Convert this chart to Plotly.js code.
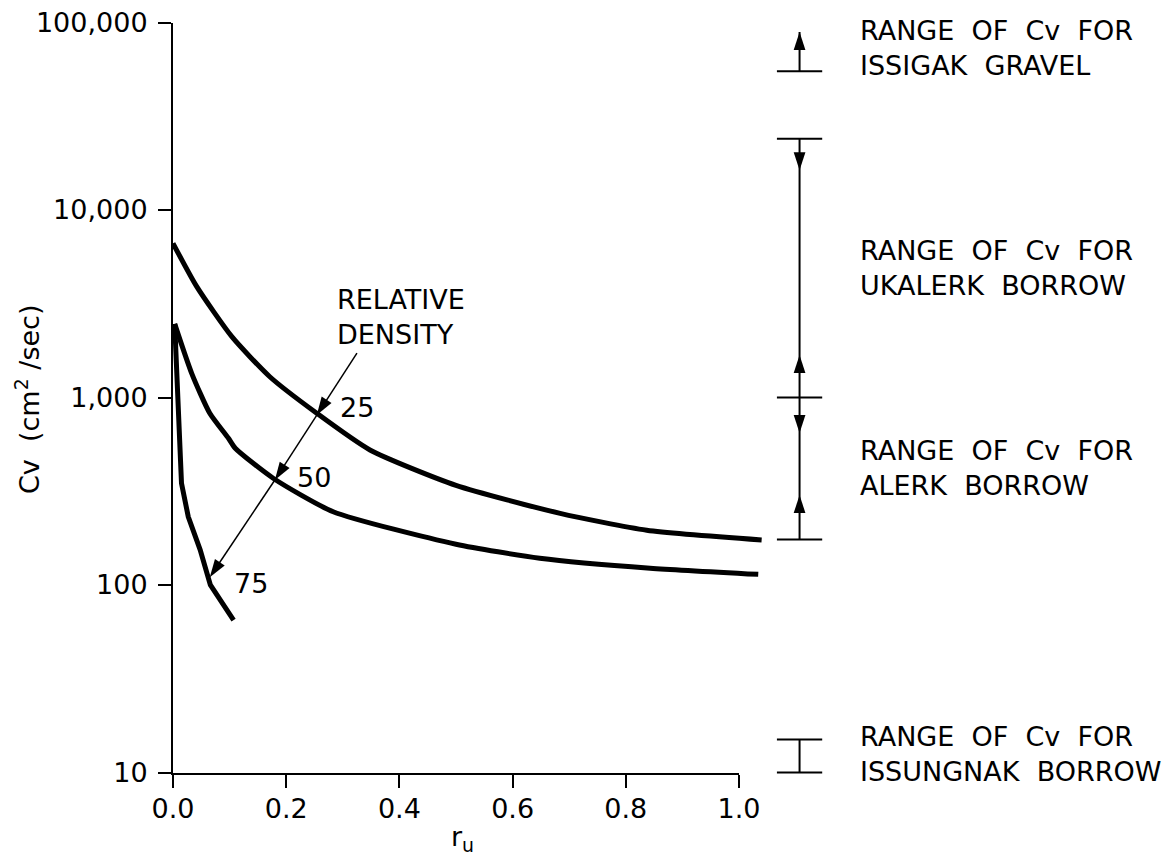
<!DOCTYPE html>
<html><head><meta charset="utf-8">
<script src="https://cdn.plot.ly/plotly-3.0.1.min.js"></script>
<style>html,body{margin:0;padding:0;background:#fff}#chart{width:1164px;height:861px}</style>
</head><body><div id="chart"></div>
<script>
// ---------- data ----------
const xTickVals = [0, 0.2, 0.4, 0.6, 0.8, 1.0];
const xTickText = ['0.0', '0.2', '0.4', '0.6', '0.8', '1.0'];
const yTickVals = [10, 100, 1000, 10000, 100000];
const yTickText = ['10', '100', '1,000', '10,000', '100,000'];

// relative density curves (r_u vs Cv, cm2/sec)
const ru25 = [0, 0.042, 0.104, 0.171, 0.254, 0.348, 0.50, 0.684, 0.837, 1.04];
const cv25 = [6640, 3900, 2110, 1290, 824, 525, 340, 241, 196, 174];
const ru50 = [0.003, 0.033, 0.065, 0.098, 0.110, 0.177, 0.283, 0.50, 0.648, 0.843, 1.034];
const cv50 = [2470, 1346, 824, 606, 536, 371, 246, 165, 139, 123, 114];
const ru75 = [0.003, 0.005, 0.009, 0.015, 0.027, 0.048, 0.066, 0.107];
const cv75 = [2470, 1790, 791, 349, 231, 154, 100, 65];
const curveLabels = ['25', '50', '75'];

// "relative density" pointer: tail, then tips on the 25, 50, 75 curves
const ruPointer = [0.325, 0.254, 0.180, 0.065];
const cvPointer = [1726, 807, 363, 110];

// ranges of Cv for borrow sources
const rangeNames = ['ISSIGAK  GRAVEL', 'UKALERK  BORROW', 'ALERK  BORROW', 'ISSUNGNAK  BORROW'];
const rangeBars = [55000, 24000, 1000, 175, 15, 10];
const rangeSpans = [[55000, 89000], [24000, 175], [15, 10]];
const headsUp = [89000, 1685, 302];
const headsDown = [16300, 647];

// ---------- layout geometry (pixels) ----------
const W = 1164, H = 861;
const X0 = 173, X1 = 739;          // r_u = 0 and 1.0
const YTOP = 22.5, YBOT = 772.5;   // Cv = 100,000 and 10
const LOGMIN = 1, LOGMAX = 5;
const pxPerX = (X1 - X0);
const pxPerDec = (YBOT - YTOP) / (LOGMAX - LOGMIN);
const fx = p => p / W, fy = p => 1 - p / H;
const FONT = 'DejaVu Sans, Liberation Sans, Arial, sans-serif';
const FS = 27;
const BLK = '#000';
const barX = 1.107, barHalf = 0.04;

const traces = [];
const on2 = t => Object.assign(t, {xaxis: 'x2', yaxis: 'y2', hoverinfo: 'skip'});
const curve = (x, y, shape) => on2({
  type: 'scatter', mode: 'lines', x: x, y: y,
  line: {color: BLK, width: 5, shape: shape, smoothing: 0.6}
});
traces.push(curve(ru25, cv25, 'spline'));
traces.push(curve(ru50, cv50, 'spline'));
traces.push(curve(ru75, cv75, 'linear'));

// pointer lies fully inside the main axes: draw it there
traces.push({
  type: 'scatter', mode: 'lines+markers', x: ruPointer, y: cvPointer,
  xaxis: 'x', yaxis: 'y', hoverinfo: 'skip', cliponaxis: false,
  line: {color: BLK, width: 1.5},
  marker: {symbol: 'arrow', angleref: 'previous', color: BLK, opacity: 1,
           size: ruPointer.map((_, i) => i === 0 ? 0 : 19), line: {width: 0}}
});

// horizontal range bars
const bx = [], by = [];
rangeBars.forEach(v => { bx.push(barX - barHalf, barX + barHalf, null); by.push(v, v, null); });
traces.push(on2({type: 'scatter', mode: 'lines', x: bx, y: by, line: {color: BLK, width: 2}}));
// vertical spans
const sx = [], sy = [];
rangeSpans.forEach(s => { sx.push(barX, barX, null); sy.push(s[0], s[1], null); });
traces.push(on2({type: 'scatter', mode: 'lines', x: sx, y: sy, line: {color: BLK, width: 2}}));
// arrowheads
const hv = headsUp.concat(headsDown);
traces.push(on2({type: 'scatter', mode: 'markers', x: hv.map(() => barX), y: hv,
  marker: {symbol: 'arrow', size: 19, color: BLK, opacity: 1, line: {width: 0},
           angle: hv.map((_, i) => i < headsUp.length ? 0 : 180)}}));

// ---------- annotations ----------
const ann = [];
const txt = (text, px, py, opts) => Object.assign({
  text: text, xref: 'paper', yref: 'paper', x: fx(px), y: fy(py),
  xanchor: 'left', yanchor: 'middle', align: 'left', showarrow: false,
  font: {family: FONT, size: FS, color: BLK}
}, opts || {});
const nb = s => s.replace(/ /g, '\u00a0');

const rangeHead = 'RANGE  OF  Cv  FOR';
const rangeMidY = [48.5, 267.5, 468, 754];
rangeNames.forEach((n, i) => ann.push(txt(nb(rangeHead) + '<br>' + nb(n), 858, rangeMidY[i])));
ann.push(txt('RELATIVE<br>DENSITY', 335, 316.5));
const labPos = [[338, 407], [295, 477], [232, 583]];
curveLabels.forEach((l, i) => ann.push(txt(l, labPos[i][0], labPos[i][1])));
// axis titles
ann.push(txt(nb('Cv  (cm') + '<sup>2</sup>' + nb(' /sec)'), 28, 400, {xanchor: 'center', textangle: -90}));
ann.push(txt('r<sub>u</sub>', 463, 838, {xanchor: 'center'}));

const axisCommon = {
  showline: true, linecolor: BLK, linewidth: 2, mirror: false,
  ticks: 'outside', ticklen: 13, tickwidth: 2, tickcolor: BLK,
  showgrid: false, zeroline: false, tickmode: 'array', fixedrange: true,
  tickfont: {family: FONT, size: FS, color: BLK}
};
const hidden = {visible: false, showgrid: false, zeroline: false, fixedrange: true};

const layout = {
  width: W, height: H, autosize: false,
  margin: {l: 0, r: 0, t: 0, b: 0, pad: 0},
  paper_bgcolor: '#fff', plot_bgcolor: 'rgba(0,0,0,0)', showlegend: false,
  xaxis: Object.assign({}, axisCommon, {
    domain: [fx(X0), fx(X1)], range: [0, 1], tickvals: xTickVals, ticktext: xTickText,
    ticklabelstandoff: -2, anchor: 'y'
  }),
  yaxis: Object.assign({}, axisCommon, {
    domain: [fy(YBOT), fy(YTOP)], type: 'log', range: [LOGMIN, LOGMAX],
    tickvals: yTickVals, ticktext: yTickText, ticklabelstandoff: 5, anchor: 'x'
  }),
  // same scales as the visible axes, spread over the whole page so the
  // curves past r_u = 1.0 and the range bars on the right are drawn
  xaxis2: Object.assign({}, hidden, {
    domain: [fx(X0), 1], range: [0, (W - X0) / pxPerX], anchor: 'y2'
  }),
  yaxis2: Object.assign({}, hidden, {
    domain: [0, 1], type: 'log', anchor: 'x2',
    range: [LOGMIN - (H - YBOT) / pxPerDec, LOGMAX + YTOP / pxPerDec]
  }),
  annotations: ann
};

Plotly.newPlot('chart', traces, layout, {displayModeBar: false, staticPlot: true});
</script></body></html>
